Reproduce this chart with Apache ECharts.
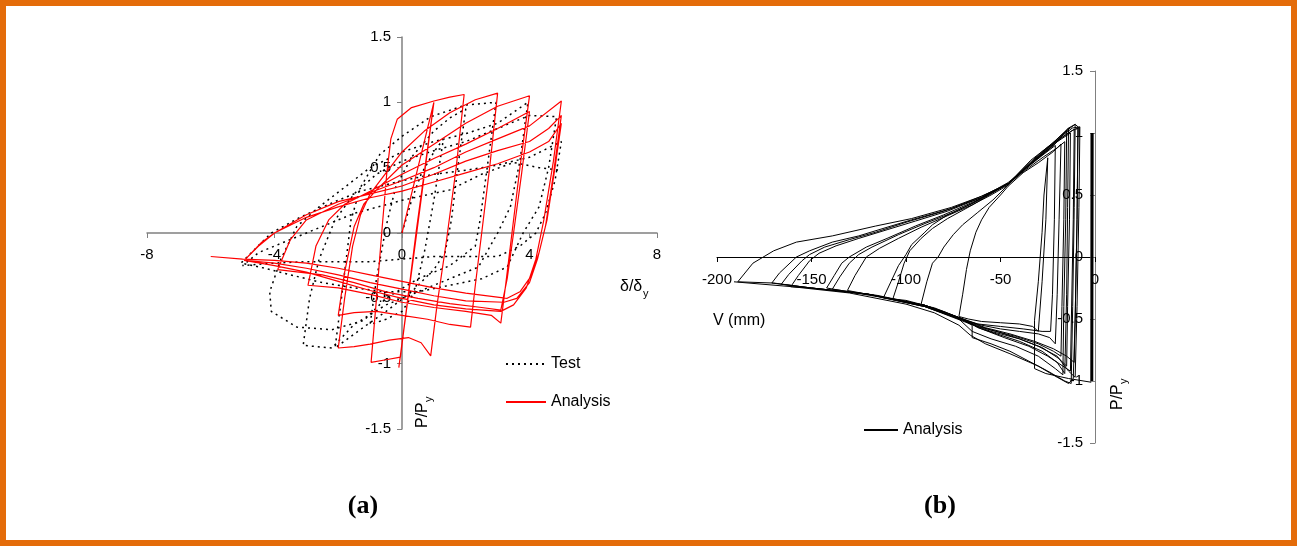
<!DOCTYPE html>
<html>
<head>
<meta charset="utf-8">
<script src="https://cdn.jsdelivr.net/npm/echarts@6/dist/echarts.min.js"></script>
<style>
  html, body { margin: 0; padding: 0; background: #fff; }
  #frame { position: absolute; left: 0; top: 0; width: 1297px; height: 546px; box-sizing: border-box; border: 6px solid #e46c0a; }
  #chartA { position: absolute; left: 0; top: 0; width: 680px; height: 546px; }
  #chartB { position: absolute; left: 680px; top: 0; width: 617px; height: 546px; }
</style>
</head>
<body>
<div id="frame"></div>
<div id="chartA"></div>
<div id="chartB"></div>
<script>
// (a) 数据：δ/δy - P/Py
var redLoop1 = [[0, 0], [0.5, 0.5], [1.0, 1.0], [0.45, -0.02], [-0.1, -1.03], [0.45, 0.0], [1.0, 1.0], [0.45, 0.02], [-0.05, -0.95], [-0.5, -0.97], [-0.97, -0.99]];
var redLoop2 = [[-0.97, -0.99], [-0.8, -0.5], [-0.62, 0.05], [-0.48, 0.45], [-0.35, 0.72], [-0.15, 0.87], [0.3, 0.96], [1.0, 1.01], [1.5, 1.04], [1.95, 1.06], [1.7, 0.5], [1.4, -0.05], [1.1, -0.55], [0.9, -0.94], [0.6, -0.84], [0.2, -0.8], [-0.4, -0.82], [-1.0, -0.85], [-1.5, -0.87], [-2.0, -0.88]];
var redLoop3 = [[-2.0, -0.88], [-1.8, -0.5], [-1.55, -0.1], [-1.3, 0.14], [-1.0, 0.3], [-0.5, 0.46], [0, 0.62], [0.7, 0.78], [1.5, 0.92], [2.3, 1.02], [3.0, 1.07], [2.75, 0.5], [2.5, 0.0], [2.3, -0.4], [2.15, -0.72], [1.5, -0.7], [0.8, -0.66], [0, -0.63], [-0.8, -0.6], [-1.5, -0.61], [-2.0, -0.63]];
var redLoop4 = [[-2.0, -0.63], [-1.8, -0.3], [-1.5, 0.05], [-1.2, 0.22], [-0.8, 0.33], [0, 0.52], [1, 0.68], [2, 0.84], [3, 0.97], [4.0, 1.05], [3.7, 0.5], [3.45, 0.0], [3.25, -0.4], [3.1, -0.69], [2.8, -0.63], [2, -0.6], [1, -0.57], [0, -0.53], [-1, -0.47], [-2, -0.42], [-2.95, -0.4]];
var redLoop5 = [[-2.95, -0.4], [-2.7, -0.1], [-2.3, 0.1], [-1.8, 0.22], [-1, 0.32], [0, 0.45], [1, 0.57], [2, 0.68], [3, 0.8], [4.0, 0.93], [3.75, 0.45], [3.5, 0.0], [3.3, -0.35], [3.1, -0.59], [2.5, -0.57], [1.5, -0.54], [0.5, -0.5], [-0.5, -0.45], [-1.5, -0.38], [-2.5, -0.32], [-3.9, -0.28]];
var redLoop6 = [[-3.9, -0.28], [-3.5, -0.05], [-3, 0.1], [-2, 0.22], [-1, 0.31], [0, 0.4], [1, 0.5], [2, 0.62], [3, 0.72], [4, 0.82], [5.0, 1.01], [4.75, 0.55], [4.45, 0.1], [4.2, -0.2], [3.9, -0.42], [3.5, -0.55], [3.1, -0.6], [2, -0.58], [1, -0.55], [0, -0.5], [-1, -0.44], [-2, -0.37], [-3, -0.3], [-4, -0.25], [-4.95, -0.21]];
var redLoop7 = [[-4.95, -0.21], [-4.5, -0.1], [-4, 0.0], [-3, 0.14], [-2, 0.24], [-1, 0.3], [0, 0.36], [1, 0.45], [2, 0.55], [3, 0.63], [4, 0.7], [4.6, 0.8], [5.0, 0.9], [4.75, 0.45], [4.5, 0.05], [4.25, -0.2], [4.0, -0.38], [3.6, -0.5], [3.2, -0.53], [2, -0.52], [1, -0.48], [0, -0.43], [-1, -0.38], [-2, -0.32], [-3, -0.27], [-4, -0.23], [-4.95, -0.21]];
var redLoop8 = [[-4.95, -0.21], [-4.4, -0.07], [-4, 0.0], [-3, 0.12], [-2, 0.2], [-1, 0.27], [0, 0.32], [1, 0.39], [2, 0.46], [3, 0.53], [4, 0.62], [4.6, 0.7], [5.0, 0.84], [4.8, 0.5], [4.55, 0.1], [4.3, -0.15], [4.05, -0.33], [3.7, -0.45], [3.3, -0.5], [2, -0.46], [1, -0.42], [0, -0.37], [-1, -0.32], [-2, -0.27], [-3, -0.23], [-4, -0.21], [-5, -0.2], [-6.0, -0.18]];

var testLoop1 = [[0, 0], [0.3, 0.25], [0.6, 0.45], [1.0, 0.62], [1.3, 0.72], [1.0, 0.25], [0.7, -0.15], [0.4, -0.45], [0, -0.6], [-0.5, -0.66], [-1.0, -0.7], [-0.8, -0.35], [-0.5, 0.05], [-0.2, 0.35], [0.3, 0.58], [1.0, 0.78], [1.5, 0.88], [2.0, 0.95]];
var testLoop2 = [[2.0, 0.95], [1.75, 0.5], [1.55, 0.1], [1.35, -0.15], [1.0, -0.28], [0.3, -0.45], [-0.5, -0.6], [-1.2, -0.72], [-2.1, -0.88], [-1.9, -0.5], [-1.75, -0.2], [-1.6, 0.1], [-1.3, 0.35], [-0.7, 0.6], [0, 0.74], [0.9, 0.89], [2.0, 0.98], [2.95, 1.0]];
var testLoop3 = [[2.95, 1.0], [2.7, 0.55], [2.45, 0.1], [2.3, -0.1], [1.5, -0.25], [0.5, -0.35], [-0.5, -0.5], [-1.2, -0.67], [-2.2, -0.74], [-3.3, -0.72], [-4.1, -0.6], [-4.15, -0.45], [-3.8, -0.2], [-3.3, 0.05], [-2.6, 0.2], [-1.8, 0.35], [-1.0, 0.5], [0, 0.62], [1, 0.7], [2, 0.76], [3, 0.84], [3.95, 1.0]];
var testLoop4 = [[3.95, 1.0], [3.7, 0.55], [3.4, 0.2], [3.0, 0.0], [2.4, -0.26], [1.5, -0.35], [0.5, -0.45], [-0.5, -0.55], [-1.5, -0.7], [-2.2, -0.88], [-3.1, -0.86], [-2.9, -0.5], [-2.6, -0.2], [-2.1, 0.1], [-1.5, 0.3], [-0.8, 0.45], [0, 0.55], [1, 0.63], [2, 0.7], [3, 0.8], [4, 0.9], [4.85, 0.89]];
var testLoop5 = [[4.85, 0.89], [4.6, 0.5], [4.3, 0.2], [3.8, 0.0], [3.3, -0.26], [2.5, -0.35], [1.5, -0.4], [0.5, -0.45], [-0.5, -0.45], [-1.5, -0.42], [-2.5, -0.38], [-3.5, -0.32], [-4.3, -0.27], [-5.05, -0.23], [-4.6, -0.12], [-4.1, 0.0], [-3.2, 0.12], [-2.2, 0.23], [-1.3, 0.32], [0, 0.4], [1, 0.45], [2, 0.48], [3, 0.52], [4, 0.58], [5.0, 0.7]];
var testLoop6 = [[5.0, 0.7], [4.8, 0.4], [4.5, 0.15], [4.2, 0.0], [3.7, -0.1], [3.0, -0.18], [2.0, -0.18], [1.0, -0.18], [0, -0.2], [-1.0, -0.22], [-2.0, -0.22], [-3.0, -0.22], [-4.0, -0.23], [-5.0, -0.25], [-4.5, -0.15], [-3.5, -0.05], [-2.5, 0.05], [-1.5, 0.15], [0, 0.25], [1.5, 0.33], [2.5, 0.45], [3.5, 0.54], [4.3, 0.5], [5.0, 0.48]];

// (b) 数据：V (mm) - P/Py
var bElastic = [[-1.5, 1.0], [-1.7, -1.0], [-1.5, 1.0], [-1.7, -1.0], [-1.6, 1.0]];
var bLoop2 = [[-2, -1.01], [-14, -0.98], [-26, -0.94], [-32, -0.9], [-32, -0.51], [-30, -0.2], [-28, 0.2], [-27, 0.5], [-25, 0.8], [-26, 0.3], [-28, -0.2], [-30, -0.6], [-33, -0.56], [-40, -0.54], [-50, -0.53], [-60, -0.52], [-67, -0.5], [-72, -0.48]];
var bLoop3 = [[-72, -0.48], [-70, -0.3], [-68, -0.1], [-66, 0.05], [-63, 0.2], [-60, 0.3], [-56, 0.4], [-50, 0.5], [-46, 0.57], [-38, 0.68], [-30, 0.76], [-22, 0.85], [-18, 0.91], [-19, 0.3], [-20, -0.3], [-21, -0.7], [-24, -0.65], [-30, -0.62], [-40, -0.6], [-50, -0.58], [-60, -0.55], [-67, -0.52], [-80, -0.44], [-92, -0.38]];
var bLoop4 = [[-92, -0.38], [-89, -0.2], [-86, -0.05], [-83, 0.0], [-80, 0.08], [-75, 0.18], [-70, 0.26], [-62, 0.36], [-54, 0.46], [-46, 0.58], [-38, 0.7], [-30, 0.8], [-22, 0.9], [-14, 1.04], [-14.5, 0.4], [-15, -0.3], [-16, -0.94], [-20, -0.85], [-28, -0.76], [-40, -0.68], [-52, -0.62], [-62, -0.57], [-70, -0.5], [-85, -0.41], [-100, -0.36], [-107, -0.34]];
var bLoop5 = [[-107, -0.34], [-104, -0.2], [-101, -0.05], [-98, 0.05], [-92, 0.15], [-86, 0.23], [-78, 0.31], [-66, 0.41], [-56, 0.5], [-46, 0.59], [-36, 0.72], [-28, 0.84], [-20, 0.94], [-14, 1.03], [-10.5, 1.07], [-11, 0.4], [-11.8, -0.4], [-12.6, -1.02], [-16, -1.0], [-25, -0.92], [-35, -0.84], [-45, -0.76], [-55, -0.7], [-65, -0.65], [-65, -0.55], [-72, -0.49], [-90, -0.39], [-100, -0.35], [-112, -0.33]];
var bLoop6 = [[-112, -0.33], [-108, -0.2], [-104, -0.07], [-100, 0.02], [-97, 0.1], [-90, 0.2], [-86, 0.26], [-78, 0.34], [-65, 0.43], [-56, 0.51], [-46, 0.59], [-36, 0.73], [-26, 0.86], [-18, 0.97], [-12, 1.04], [-8, 1.05], [-8.5, 0.4], [-9.5, -0.4], [-10.5, -0.97], [-14, -0.92], [-20, -0.8], [-30, -0.72], [-40, -0.66], [-52, -0.6], [-62, -0.56], [-70, -0.5], [-90, -0.39], [-110, -0.33], [-131, -0.27]];
var bLoop7 = [[-131, -0.27], [-127, -0.15], [-121, 0.0], [-114, 0.07], [-104, 0.15], [-92, 0.24], [-80, 0.32], [-65, 0.42], [-55, 0.5], [-46, 0.58], [-34, 0.76], [-26, 0.87], [-18, 0.96], [-12, 1.02], [-9, 1.04], [-9.5, 0.3], [-10.5, -0.5], [-11, -0.85], [-15, -0.8], [-22, -0.74], [-32, -0.68], [-45, -0.62], [-58, -0.57], [-68, -0.51], [-90, -0.39], [-115, -0.31], [-139, -0.26]];
var bLoop8 = [[-139, -0.26], [-135, -0.16], [-130, -0.05], [-125, 0.02], [-118, 0.08], [-104, 0.18], [-90, 0.27], [-75, 0.36], [-60, 0.47], [-46, 0.59], [-36, 0.71], [-27, 0.81], [-20, 0.88], [-16, 0.93], [-16.5, 0.3], [-17.5, -0.4], [-18, -0.8], [-22, -0.76], [-30, -0.7], [-42, -0.64], [-55, -0.59], [-66, -0.53], [-90, -0.4], [-115, -0.32], [-142, -0.25]];
var bLoop9 = [[-142, -0.25], [-138, -0.15], [-134, -0.05], [-130, 0.0], [-121, 0.08], [-110, 0.15], [-95, 0.25], [-80, 0.34], [-62, 0.46], [-46, 0.59], [-36, 0.73], [-28, 0.83], [-20, 0.93], [-13, 1.0], [-13.5, 0.3], [-14.5, -0.4], [-15, -0.88], [-19, -0.82], [-28, -0.73], [-40, -0.66], [-55, -0.6], [-66, -0.54], [-90, -0.4], [-120, -0.3], [-150, -0.25], [-161, -0.24]];
var bLoop10 = [[-161, -0.24], [-157, -0.15], [-151, -0.03], [-146, 0.03], [-137, 0.09], [-125, 0.15], [-110, 0.22], [-95, 0.29], [-78, 0.37], [-60, 0.48], [-46, 0.6], [-34, 0.75], [-25, 0.86], [-17, 0.97], [-11, 1.03], [-11.5, 0.3], [-12.5, -0.5], [-13, -0.92], [-17, -0.88], [-25, -0.8], [-35, -0.72], [-48, -0.65], [-60, -0.58], [-68, -0.52], [-90, -0.4], [-120, -0.3], [-150, -0.25], [-166, -0.22]];
var bLoop11 = [[-166, -0.22], [-162, -0.14], [-155, -0.03], [-151, 0.02], [-143, 0.08], [-130, 0.14], [-116, 0.2], [-100, 0.28], [-80, 0.37], [-60, 0.48], [-46, 0.59], [-36, 0.72], [-27, 0.83], [-21, 0.9], [-21.5, 0.3], [-22.5, -0.3], [-23.5, -0.6], [-28, -0.6], [-38, -0.58], [-50, -0.56], [-62, -0.54], [-70, -0.5], [-90, -0.39], [-120, -0.3], [-150, -0.25], [-171, -0.21]];
var bLoop12 = [[-171, -0.21], [-167, -0.13], [-158, 0.0], [-151, 0.05], [-139, 0.12], [-125, 0.17], [-110, 0.24], [-97, 0.3], [-76, 0.39], [-60, 0.49], [-46, 0.59], [-36, 0.74], [-28, 0.85], [-20, 0.95], [-15, 1.02], [-15.5, 0.3], [-16.5, -0.4], [-17, -0.95], [-21, -0.9], [-30, -0.8], [-42, -0.72], [-55, -0.66], [-65, -0.6], [-72, -0.5], [-90, -0.39], [-120, -0.3], [-150, -0.25], [-170, -0.21], [-189, -0.2]];
var bLoop13 = [[-189, -0.2], [-181, -0.05], [-170, 0.05], [-158, 0.12], [-139, 0.17], [-116, 0.25], [-97, 0.31], [-76, 0.4], [-60, 0.49], [-46, 0.59], [-34, 0.78], [-23, 0.91], [-14, 1.04], [-10.5, 1.07], [-9, 1.05], [-9.5, 0.3], [-10.5, -0.5], [-11.5, -0.98], [-14, -1.02], [-20, -0.97], [-30, -0.88], [-45, -0.78], [-58, -0.7], [-66, -0.63], [-72, -0.55], [-85, -0.45], [-100, -0.38], [-130, -0.29], [-160, -0.24], [-191, -0.2]];

var redPath = [].concat(redLoop1, redLoop2, redLoop3, redLoop4, redLoop5, redLoop6, redLoop7, redLoop8);
var testPath = [].concat(testLoop1, testLoop2, testLoop3, testLoop4, testLoop5, testLoop6);
var bPath = [].concat(bLoop2, bLoop3, bLoop4, bLoop5, bLoop6, bLoop7, bLoop8, bLoop9, bLoop10, bLoop11, bLoop12, bLoop13);

var FONT = 'Liberation Sans, Arial, sans-serif';
var labelStyle = { color: '#000', fontSize: 15, fontFamily: FONT };
var noSymbol = { color: 'rgba(0,0,0,0)', borderColor: 'rgba(0,0,0,0)', borderWidth: 0 };

var chartA = echarts.init(document.getElementById('chartA'));
var chartB = echarts.init(document.getElementById('chartB'));

// 坐标轴用 offset 移到零点处（标签跟着轴线走）
chartA.setOption({
    animation: false,
    grid: { left: 147, top: 37, width: 510, height: 392 },
    legend: {
        data: ['Test', 'Analysis'],
        orient: 'vertical',
        left: 500,
        top: 351,
        itemWidth: 40,
        itemHeight: 14,
        itemGap: 22,
        itemStyle: noSymbol,
        textStyle: { color: '#000', fontSize: 16, fontFamily: FONT }
    },
    xAxis: {
        type: 'value',
        min: -8,
        max: 8,
        interval: 4,
        position: 'bottom',
        offset: -196,
        axisLine: { onZero: false, lineStyle: { color: '#808080', width: 1.5 } },
        axisTick: { length: 5, lineStyle: { color: '#808080' } },
        axisLabel: Object.assign({ margin: 14 }, labelStyle),
        splitLine: { show: false }
    },
    yAxis: {
        type: 'value',
        min: -1.5,
        max: 1.5,
        interval: 0.5,
        position: 'left',
        offset: -255,
        axisLine: { show: true, onZero: false, lineStyle: { color: '#808080', width: 1.5 } },
        axisTick: { show: true, length: 5, lineStyle: { color: '#808080' } },
        axisLabel: Object.assign({ margin: 11 }, labelStyle),
        splitLine: { show: false }
    },
    series: [{
        name: 'Test',
        type: 'line',
        data: testPath,
        showSymbol: false,
        symbol: 'none',
        lineStyle: { color: '#000', width: 1.5, type: [2, 4] },
        itemStyle: { color: '#000' },
        z: 2
    }, {
        name: 'Analysis',
        type: 'line',
        data: redPath,
        showSymbol: false,
        symbol: 'none',
        lineStyle: { color: '#ff0000', width: 1.2 },
        itemStyle: { color: '#ff0000' },
        z: 3
    }],
    graphic: [
        { type: 'text', left: 620, top: 279, style: { text: 'δ/δ', fill: '#000', font: '16px ' + FONT } },
        { type: 'text', left: 643, top: 288, style: { text: 'y', fill: '#000', font: '11px ' + FONT } },
        {
            type: 'group', x: 415, y: 428, rotation: Math.PI / 2,
            children: [
                { type: 'text', x: 0, y: 0, style: { text: 'P/P', fill: '#000', font: '16px ' + FONT, verticalAlign: 'top', align: 'left' } },
                { type: 'text', x: 26, y: 8, style: { text: 'y', fill: '#000', font: '11px ' + FONT, verticalAlign: 'top', align: 'left' } }
            ]
        },
        { type: 'text', x: 363, y: 506, style: { text: '(a)', fill: '#000', font: 'bold 26px Liberation Serif, Times New Roman, serif', align: 'center', verticalAlign: 'middle' } }
    ]
});

chartB.setOption({
    animation: false,
    grid: { left: 37, top: 71, width: 378, height: 372 },
    legend: {
        data: ['Analysis'],
        left: 178,
        top: 417,
        itemWidth: 34,
        itemHeight: 14,
        itemStyle: noSymbol,
        textStyle: { color: '#000', fontSize: 16, fontFamily: FONT }
    },
    xAxis: {
        type: 'value',
        min: -200,
        max: 0,
        interval: 50,
        position: 'bottom',
        offset: -186,
        axisLine: { onZero: false, lineStyle: { color: '#000', width: 1 } },
        axisTick: { length: 5, lineStyle: { color: '#000' } },
        axisLabel: Object.assign({ margin: 15 }, labelStyle),
        splitLine: { show: false }
    },
    yAxis: {
        type: 'value',
        min: -1.5,
        max: 1.5,
        interval: 0.5,
        position: 'left',
        offset: -378,
        axisLine: { show: true, onZero: false, lineStyle: { color: '#808080', width: 1 } },
        axisTick: { show: true, length: 5, lineStyle: { color: '#808080' } },
        axisLabel: Object.assign({ margin: 12 }, labelStyle),
        splitLine: { show: false }
    },
    series: [{
        name: 'Analysis',
        type: 'line',
        data: bPath,
        showSymbol: false,
        symbol: 'none',
        lineStyle: { color: '#000', width: 1 },
        itemStyle: { color: '#000' }
    }, {
        name: 'Analysis',
        type: 'line',
        data: bElastic,
        showSymbol: false,
        symbol: 'none',
        lineStyle: { color: '#000', width: 3 },
        itemStyle: { color: '#000' }
    }],
    graphic: [
        { type: 'text', left: 33, top: 313, style: { text: 'V (mm)', fill: '#000', font: '16px ' + FONT } },
        {
            type: 'group', x: 430, y: 410, rotation: Math.PI / 2,
            children: [
                { type: 'text', x: 0, y: 0, style: { text: 'P/P', fill: '#000', font: '16px ' + FONT, verticalAlign: 'top', align: 'left' } },
                { type: 'text', x: 26, y: 8, style: { text: 'y', fill: '#000', font: '11px ' + FONT, verticalAlign: 'top', align: 'left' } }
            ]
        },
        { type: 'text', x: 260, y: 506, style: { text: '(b)', fill: '#000', font: 'bold 26px Liberation Serif, Times New Roman, serif', align: 'center', verticalAlign: 'middle' } }
    ]
});
</script>
</body>
</html>
